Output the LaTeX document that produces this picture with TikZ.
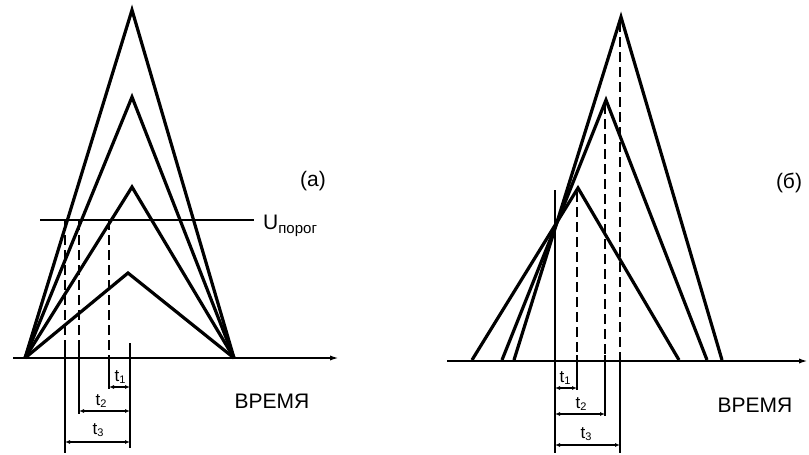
\documentclass[tikz,border=0pt]{standalone}
\usepackage{fontspec}
\setmainfont{Liberation Sans}
\usetikzlibrary{arrows.meta}
\tikzset{
  tri/.style={line width=3.2pt, line join=miter},
  axisline/.style={line width=2pt, -{Latex[length=10pt,width=5pt]}},
  thr/.style={line width=1.5pt},
  dline/.style={line width=1.6pt, dash pattern=on 10pt off 5pt},
  ext/.style={line width=1.6pt},
  dim/.style={line width=1.3pt, {Latex[length=5pt,width=4pt]}-{Latex[length=5pt,width=4pt]}},
  lbl/.style={inner sep=0pt, font=\fontsize{21}{24}\selectfont},
  tl/.style={inner sep=0pt, font=\fontsize{17}{19}\selectfont}
}
\newcommand{\tsub}[1]{t\raisebox{-2pt}{\fontsize{11}{12}\selectfont #1}}
\begin{document}
\begin{tikzpicture}[x=1pt,y=-1pt]
\useasboundingbox (0,0) rectangle (809,455);
% ---------- panel (a) ----------
\coordinate (aL) at (25,358);
\coordinate (aR) at (234,358);
\coordinate (ap1) at (132,10);
\coordinate (ap2) at (132,97);
\coordinate (ap3) at (132,187);
\coordinate (ap4) at (128,273);
\coordinate (aax0) at (13,358);
\coordinate (aax1) at (340,358);
\draw[axisline] (aax0) -- (aax1);
\draw[tri] (aL) -- (ap1) -- (aR);
\draw[tri] (aL) -- (ap2) -- (aR);
\draw[tri] (aL) -- (ap3) -- (aR);
\draw[tri] (aL) -- (ap4) -- (aR);
\coordinate (ath0) at (40,220);
\coordinate (ath1) at (254,220);
\draw[thr] (ath0) -- (ath1);
\node[lbl, anchor=west] (aU) at (263,226) {U\raisebox{-4pt}{\fontsize{15}{16}\selectfont порог}};
\node[lbl] (alab) at (313,181) {(а)};
% threshold crossings
\coordinate (ac1) at (65,220);
\coordinate (ac2) at (79,220);
\coordinate (ac3) at (109,220);
\coordinate (ac1b) at (65,345);
\coordinate (ac2b) at (79,345);
\coordinate (ac3b) at (109,355);
\draw[dline] (ac1) -- (ac1b);
\draw[dline] (ac2) -- (ac2b);
\draw[dline] (ac3) -- (ac3b);
\coordinate (ae1) at (65,453);
\coordinate (ae2) at (79,414);
\coordinate (ae3) at (109,389);
\coordinate (aeT) at (130,343);
\coordinate (aeB) at (130,448);
\draw[ext] (ac1b) -- (ae1);
\draw[ext] (ac2b) -- (ae2);
\draw[ext] (ac3b) -- (ae3);
\draw[ext] (aeT) -- (aeB);
\coordinate (ad1a) at (109,387);
\coordinate (ad1b) at (130,387);
\coordinate (ad2a) at (79,411);
\coordinate (ad2b) at (130,411);
\coordinate (ad3a) at (65,442);
\coordinate (ad3b) at (130,442);
\draw[dim] (ad1a) -- (ad1b);
\draw[dim] (ad2a) -- (ad2b);
\draw[dim] (ad3a) -- (ad3b);
\node[tl] (at1) at (120,377) {\tsub{1}};
\node[tl] (at2) at (101,401) {\tsub{2}};
\node[tl] (at3) at (98,430) {\tsub{3}};
\node[lbl] (atime) at (272,401) {ВРЕМЯ};
% ---------- panel (b) ----------
\coordinate (bax0) at (447,361);
\coordinate (bax1) at (809,361);
\draw[axisline] (bax0) -- (bax1);
\coordinate (bL1) at (514,360);
\coordinate (bR1) at (722,360);
\coordinate (bp1) at (621,17);
\coordinate (bL2) at (502,360);
\coordinate (bR2) at (707,360);
\coordinate (bp2) at (606,100);
\coordinate (bL3) at (472,360);
\coordinate (bR3) at (679,360);
\coordinate (bp3) at (578,188);
\draw[tri] (bL1) -- (bp1) -- (bR1);
\draw[tri] (bL2) -- (bp2) -- (bR2);
\draw[tri] (bL3) -- (bp3) -- (bR3);
\node[lbl] (blab) at (789,183) {(б)};
% common crossing line
\coordinate (bcT) at (555,190);
\coordinate (bcB) at (555,453);
\draw[ext] (bcT) -- (bcB);
% dashed from peaks
\coordinate (bd3) at (577,192);
\coordinate (bd3b) at (577,355);
\coordinate (bd2) at (605,104);
\coordinate (bd2b) at (605,355);
\coordinate (bd1) at (620,22);
\coordinate (bd1b) at (620,355);
\draw[dline] (bd3) -- (bd3b);
\draw[dline] (bd2) -- (bd2b);
\draw[dline] (bd1) -- (bd1b);
\coordinate (be3) at (577,390);
\coordinate (be2) at (605,416);
\coordinate (be1) at (620,453);
\draw[ext] (bd3b) -- (be3);
\draw[ext] (bd2b) -- (be2);
\draw[ext] (bd1b) -- (be1);
\coordinate (bm1a) at (555,388);
\coordinate (bm1b) at (577,388);
\coordinate (bm2a) at (555,414);
\coordinate (bm2b) at (605,414);
\coordinate (bm3a) at (555,445);
\coordinate (bm3b) at (620,445);
\draw[dim] (bm1a) -- (bm1b);
\draw[dim] (bm2a) -- (bm2b);
\draw[dim] (bm3a) -- (bm3b);
\node[tl] (bt1) at (565,378) {\tsub{1}};
\node[tl] (bt2) at (581,404) {\tsub{2}};
\node[tl] (bt3) at (586,434) {\tsub{3}};
\node[lbl] (btime) at (755,405) {ВРЕМЯ};
\end{tikzpicture}
\end{document}
